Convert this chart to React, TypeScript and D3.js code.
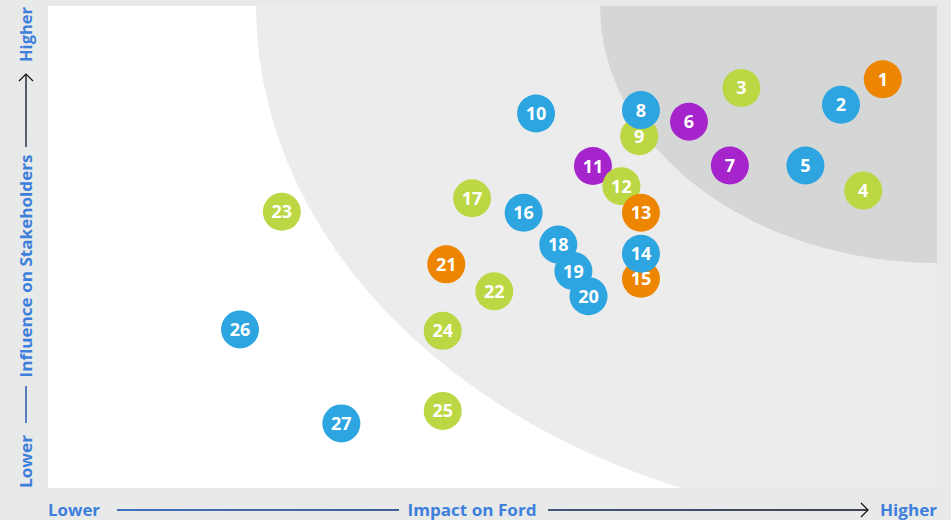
import React from "react";
import * as d3 from "d3";

const ids = [1,2,3,4,5,6,7,8,9,10,11,12,13,14,15,16,17,18,19,20,21,22,23,24,25,26,27];
const impact = [9.39,8.92,7.80,9.17,8.52,7.21,7.67,6.67,6.65,5.49,6.13,6.45,6.67,6.67,6.67,5.35,4.77,5.74,5.91,6.08,4.48,5.02,2.63,4.44,4.44,2.16,3.30];
const influence = [8.48,7.95,8.30,6.17,6.69,7.60,6.69,7.84,7.30,7.77,6.68,6.26,5.71,4.86,4.34,5.71,6.01,5.05,4.50,3.98,4.64,4.08,5.73,3.26,1.60,3.29,1.34];
const groups = ["o","b","g","g","b","p","p","b","g","b","p","g","o","b","o","b","g","b","b","b","o","g","g","g","g","b","b"];
const drawOrder = [1,2,3,4,5,6,7,9,8,10,11,12,13,15,14,16,17,18,19,20,21,22,23,24,25,26,27];
const groupKeys = ["o","b","g","p"];
const groupColors = ["#ee8500","#2ca5e0","#bcd744","#a524cc"];
// Zones (semi-axes in data units, centred on the top-right corner)
const zoneRx = [7.66, 3.79];
const zoneRy = [10.79, 5.33];
const zoneFill = ["#ececec", "#d5d6d6"];

const W = 951, H = 520;
const L = 48, R = 937, T = 6, B = 488;

export default function App() {
  const x = d3.scaleLinear().domain([0, 10]).range([L, R]);
  const y = d3.scaleLinear().domain([0, 10]).range([B, T]);
  const color = d3.scaleOrdinal<string, string>().domain(groupKeys).range(groupColors);
  const r = 19;
  const labelColor = "#3d80dc";
  const font = "'Open Sans', sans-serif";
  const ay = 510;
  const ax = 26;
  return (
    <svg width={W} height={H} style={{ position: "absolute", left: 0, top: 0, display: "block" }}>
      <defs>
        <clipPath id="plot">
          <rect x={L} y={T} width={R - L} height={B - T} />
        </clipPath>
        <linearGradient id="hline" gradientUnits="userSpaceOnUse" x1={117} x2={868} y1={0} y2={0}>
          <stop offset="0" stopColor="#0b47b0" />
          <stop offset="1" stopColor="#0a0a1a" />
        </linearGradient>
        <linearGradient id="vline" gradientUnits="userSpaceOnUse" x1={0} x2={0} y1={423} y2={74}>
          <stop offset="0" stopColor="#0b47b0" />
          <stop offset="1" stopColor="#0a0a1a" />
        </linearGradient>
      </defs>
      <rect x={0} y={0} width={W} height={H} fill="#e8e9e9" />
      <rect x={L} y={T} width={R - L} height={B - T} fill="#ffffff" />
      <g clipPath="url(#plot)">
        {zoneRx.map((rx, i) => (
          <ellipse key={i} cx={x(10)} cy={y(10)} rx={x(rx) - x(0)} ry={y(0) - y(zoneRy[i])} fill={zoneFill[i]} />
        ))}
      </g>
      {drawOrder.map((id) => {
        const i = ids.indexOf(id);
        return (
          <g key={id} transform={`translate(${x(impact[i])},${y(influence[i])})`}>
            <circle r={r} fill={color(groups[i])} />
            <text textAnchor="middle" dy="0.36em" fill="#fff" fontFamily={font} fontWeight={700} fontSize={18}>{id}</text>
          </g>
        );
      })}
      {/* X axis label */}
      <g fontFamily={font} fontWeight={700} fontSize={16} fill={labelColor}>
        <text x={L} y={ay} dy="0.35em" textLength={52} lengthAdjust="spacingAndGlyphs">Lower</text>
        <text x={472} y={ay} dy="0.35em" textAnchor="middle" textLength={129} lengthAdjust="spacingAndGlyphs">Impact on Ford</text>
        <text x={R} y={ay} dy="0.35em" textAnchor="end" textLength={57} lengthAdjust="spacingAndGlyphs">Higher</text>
      </g>
      <line x1={117} x2={399} y1={ay} y2={ay} stroke="url(#hline)" strokeWidth={1.3} />
      <line x1={548} x2={868} y1={ay} y2={ay} stroke="url(#hline)" strokeWidth={1.3} />
      <path d={`M${861},${ay - 7}L${868},${ay}L${861},${ay + 7}`} fill="none" stroke="#111" strokeWidth={1.2} />
      {/* Y axis label */}
      <g fontFamily={font} fontWeight={700} fontSize={16} fill={labelColor}>
        <text transform={`translate(${ax},${B}) rotate(-90)`} dy="0.35em" textLength={53} lengthAdjust="spacingAndGlyphs">Lower</text>
        <text transform={`translate(${ax},266) rotate(-90)`} dy="0.35em" textAnchor="middle" textLength={223} lengthAdjust="spacingAndGlyphs">Influence on Stakeholders</text>
        <text transform={`translate(${ax},${T + 1}) rotate(-90)`} dy="0.35em" textAnchor="end" textLength={55} lengthAdjust="spacingAndGlyphs">Higher</text>
      </g>
      <line x1={ax} x2={ax} y1={423} y2={386} stroke="url(#vline)" strokeWidth={1.3} />
      <line x1={ax} x2={ax} y1={147} y2={74} stroke="url(#vline)" strokeWidth={1.3} />
      <path d={`M${ax - 7},${81}L${ax},${74}L${ax + 7},${81}`} fill="none" stroke="#111" strokeWidth={1.2} />
    </svg>
  );
}
